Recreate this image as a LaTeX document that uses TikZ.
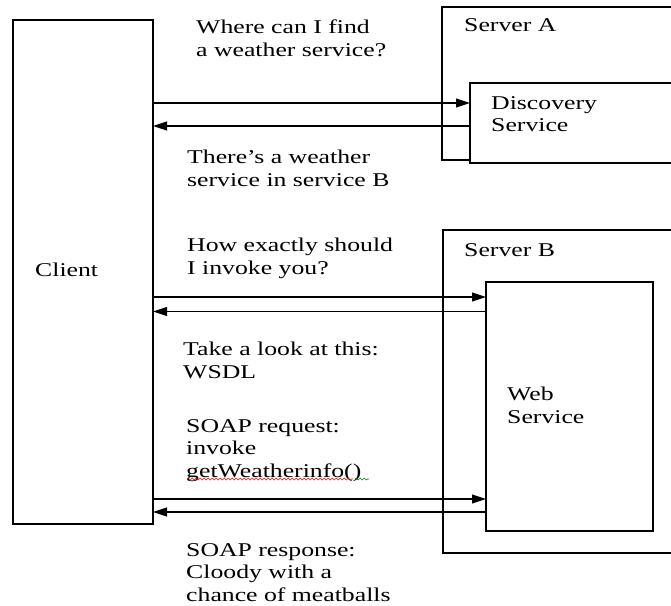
\documentclass[tikz,border=0pt]{standalone}
\usepackage{fontspec}
\setmainfont[FakeStretch=1.32]{Liberation Serif}
\usetikzlibrary{arrows.meta,decorations.pathmorphing}

\begin{document}
\begin{tikzpicture}[x=1pt,y=-1pt,
  box/.style={draw,line width=1.4pt,inner sep=0pt,outer sep=0pt,anchor=north west},
  msg/.style={line width=1.1pt,-{Triangle[length=14pt,width=9pt]}},
  txt/.style={align=left,anchor=north west,inner sep=0pt,font=\fontsize{19.5}{22.5}\selectfont}]
\useasboundingbox (0,0) rectangle (671,605);
\clip (0,0) rectangle (671,605);
% boxes
\node[box,minimum width=140pt,minimum height=504pt] (client) at (13,20) {};
\node[box,minimum width=260pt,minimum height=153pt] (srvA) at (442,7) {};
\node[box,fill=white,minimum width=240pt,minimum height=80pt] (disc) at (470,83) {};
\node[box,minimum width=260pt,minimum height=323pt] (srvB) at (443,230) {};
\node[box,fill=white,minimum width=167pt,minimum height=249pt] (web) at (486,282) {};
% box labels
\node[txt] (clientlbl) at (35,263) {Client};
\node[txt] (srvAlbl) at (464,18) {Server A};
\node[txt] (srvBlbl) at (464,243) {Server B};
\node[txt] (disclbl) at (491,96) {Discovery\\Service};
\node[txt] (weblbl) at (507,387) {Web\\Service};
% messages
\node[txt] (q1) at (196,20) {Where can I find\\a weather service?};
\node[txt] (a1) at (187,150) {There's a weather\\service in service B};
\node[txt] (q2) at (187,238) {How exactly should\\I invoke you?};
\node[txt] (a2) at (183,342) {Take a look at this:\\WSDL};
\node[txt] (q3) at (186,419) {SOAP request:\\invoke\\getWeatherinfo()};
\node[txt] (a3) at (186,543) {SOAP response:\\Cloody with a\\chance of meatballs};
\draw[red,line width=0.6pt,decorate,decoration={snake,amplitude=1pt,segment length=4pt}]
  (187,479) -- (353,479);
\draw[green!50!black,line width=0.6pt,decorate,decoration={snake,amplitude=1pt,segment length=4pt}]
  (355,479) -- (369,479);
% arrows
\foreach \n/\y in {m1/103,m2/126,m3/297,m4/311.5,m5/499,m6/512}
  \coordinate (\n) at (0,\y);
\draw[msg] (client.east |- m1) -- (disc.west |- m1);
\draw[msg] (disc.west |- m2) -- (client.east |- m2);
\draw[msg] (client.east |- m3) -- (web.west |- m3);
\draw[msg] (web.west |- m4) -- (client.east |- m4);
\draw[msg] (client.east |- m5) -- (web.west |- m5);
\draw[msg] (web.west |- m6) -- (client.east |- m6);
\end{tikzpicture}
\end{document}
